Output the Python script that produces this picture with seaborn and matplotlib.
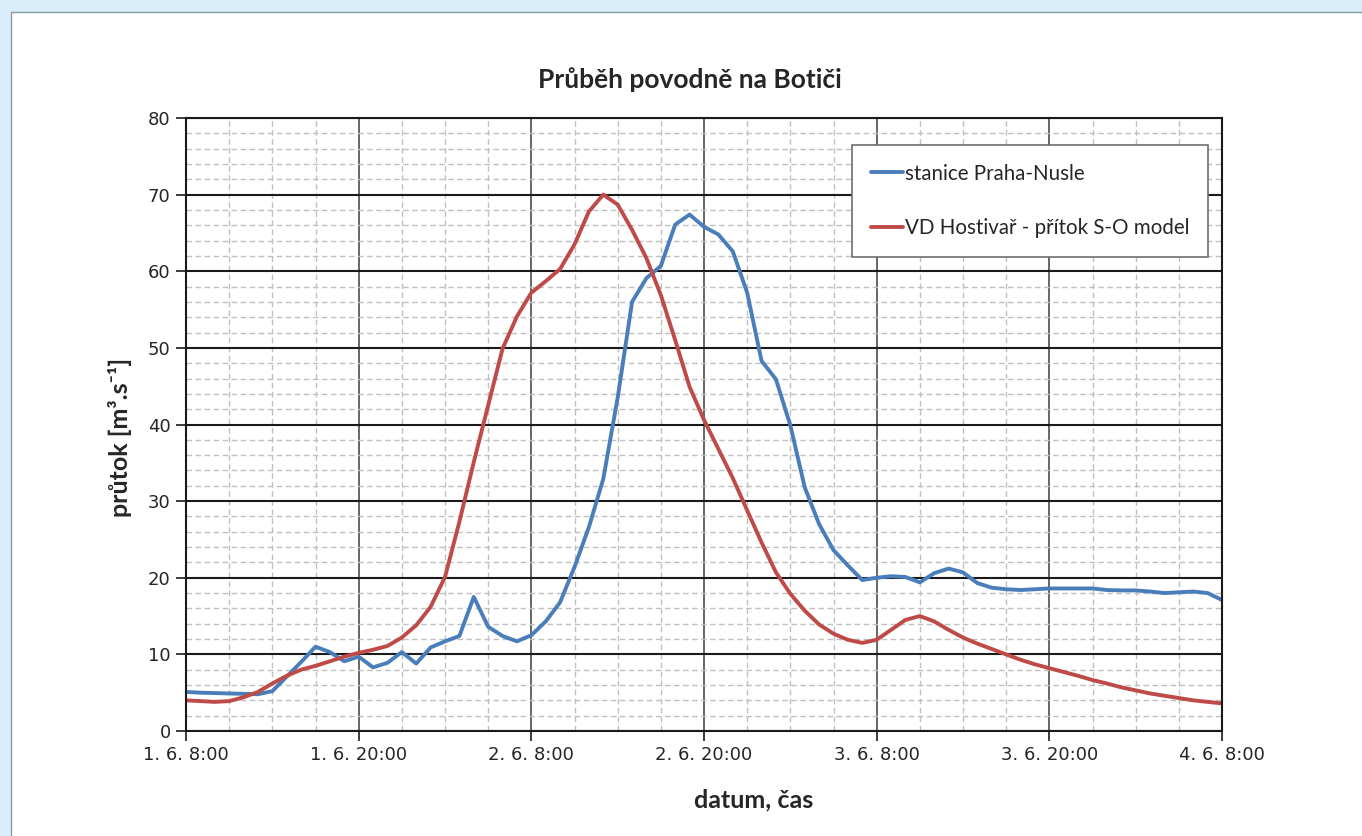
import numpy as np
import pandas as pd
import matplotlib
matplotlib.use('Agg')
import matplotlib.pyplot as plt
import matplotlib.dates as mdates
from matplotlib.patches import Rectangle
from matplotlib.ticker import MultipleLocator, FuncFormatter
import seaborn as sns

# hodinove prutoky [m3/s], 1. 6. 8:00 az 4. 6. 8:00
nusle = [5.1, 5.0, 4.95, 4.9, 4.85, 4.8, 5.2, 7.1, 9.0, 11.0,
         10.3, 9.1, 9.7, 8.3, 8.9, 10.3, 8.8, 10.9, 11.7, 12.4,
         17.5, 13.6, 12.4, 11.7, 12.5, 14.3, 16.8, 21.4, 26.6, 32.9,
         43.5, 56.0, 59.1, 60.7, 66.1, 67.4, 65.8, 64.8, 62.6, 57.2,
         48.3, 45.9, 39.9, 31.8, 27.0, 23.6, 21.6, 19.7, 20.0, 20.2,
         20.1, 19.4, 20.6, 21.2, 20.7, 19.3, 18.7, 18.5, 18.4, 18.5,
         18.6, 18.6, 18.6, 18.6, 18.4, 18.35, 18.35, 18.2, 18.0, 18.1,
         18.2, 18.0, 17.1]
hostivar = [4.0, 3.9, 3.8, 3.9, 4.4, 5.1, 6.2, 7.2, 8.0, 8.5,
            9.1, 9.7, 10.2, 10.6, 11.1, 12.2, 13.8, 16.2, 20.1, 27.3,
            35.1, 42.5, 49.9, 54.1, 57.2, 58.7, 60.3, 63.5, 67.8, 70.0,
            68.7, 65.4, 61.7, 56.9, 51.0, 44.9, 40.6, 36.8, 33.0, 28.8,
            24.6, 20.7, 17.9, 15.7, 13.9, 12.7, 11.9, 11.5, 11.9, 13.2,
            14.5, 15.0, 14.3, 13.2, 12.2, 11.4, 10.7, 10.0, 9.3, 8.7,
            8.2, 7.7, 7.2, 6.65, 6.2, 5.7, 5.3, 4.9, 4.6, 4.3,
            4.0, 3.8, 3.6]
cas = pd.date_range('2013-06-01 08:00', periods=len(nusle), freq='h')

serie = ['stanice Praha-Nusle', 'VD Hostivař - přítok S-O model']
barvy = ['#4a7ebb', '#be4b48']

df = pd.DataFrame({'cas': cas, serie[0]: nusle, serie[1]: hostivar})
long_df = df.melt(id_vars='cas', var_name='serie', value_name='prutok')

sns.set_style('white')
plt.rcParams['font.family'] = ['DejaVu Sans']
bold_font = ['Lato', 'DejaVu Sans']

fig = plt.figure(figsize=(13.62, 8.36), dpi=100)
fig.patch.set_facecolor('#d9eefa')
fig.add_artist(Rectangle((11 / 1362, -0.01), 1.0, 1 - 12 / 836 + 0.01,
                         transform=fig.transFigure, facecolor='white',
                         edgecolor='#8a99a3', linewidth=1.0, zorder=-1))

ax = fig.add_axes([186 / 1362, 105 / 836, 1036 / 1362, 613 / 836])
ax.set_facecolor('white')

sns.lineplot(data=long_df, x='cas', y='prutok', hue='serie', hue_order=serie,
             palette=barvy, linewidth=2.8, legend=False, ax=ax)

ax.set_xlim(cas[0], cas[-1])
ax.set_ylim(0, 80)

ax.xaxis.set_major_locator(mdates.HourLocator(byhour=[8, 20]))
ax.xaxis.set_minor_locator(mdates.HourLocator(byhour=[2, 5, 8, 11, 14, 17, 20, 23]))


def fmt_cas(x, pos=None):
    d = mdates.num2date(x)
    return f"{d.day}. {d.month}. {d.hour}:{d.minute:02d}"


ax.xaxis.set_major_formatter(FuncFormatter(fmt_cas))
ax.yaxis.set_major_locator(MultipleLocator(10))
ax.yaxis.set_minor_locator(MultipleLocator(2))

ax.grid(which='major', axis='y', color='#1a1a1a', linewidth=1.5)
ax.grid(which='major', axis='x', color='#4d4d4d', linewidth=1.2)
ax.grid(which='minor', color='#c0c0c0', linewidth=1.0, linestyle=(0, (4, 2.5)))
ax.set_axisbelow(True)

for s in ax.spines.values():
    s.set_color('#1a1a1a')
    s.set_linewidth(1.5)

ax.tick_params(which='major', direction='out', length=7, width=1.2,
               color='#1a1a1a', labelsize=13, labelcolor='#262626', pad=4,
               bottom=True, left=True)
ax.tick_params(which='minor', length=0)

ax.set_xlabel('datum, čas', fontsize=18, fontweight='bold', family=bold_font,
              color='#262626')
ax.set_ylabel('průtok [m³.s⁻¹]', fontsize=18, fontweight='bold', family=bold_font,
              color='#262626')
ax.xaxis.set_label_coords(0.548, -0.093)
ax.yaxis.set_label_coords(-0.052, 0.479)

fig.text(690 / 1362, 1 - 80 / 836, 'Průběh povodně na Botiči', ha='center', va='center',
         fontsize=19, fontweight='bold', family=bold_font, color='#262626')

leg = ax.legend(ax.lines[:2], serie, loc='upper left',
                bbox_to_anchor=(852 / 1362, 1 - 145 / 836), bbox_transform=fig.transFigure,
                borderaxespad=0, frameon=True, fancybox=False, framealpha=1,
                edgecolor='#6e6e6e', borderpad=0.9, labelspacing=1.7,
                handlelength=1.6, handletextpad=0.1,
                prop={'family': bold_font, 'size': 14.8})
leg.get_frame().set_linewidth(1.2)
for t in leg.get_texts():
    t.set_color('#262626')

fig.savefig('out.png', dpi=100, facecolor=fig.get_facecolor())
